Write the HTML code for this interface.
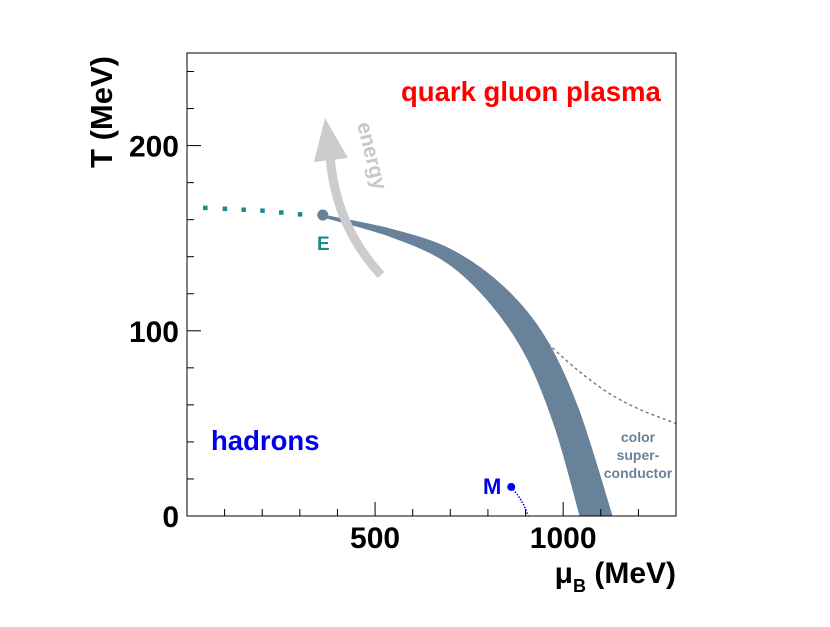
<!DOCTYPE html>
<html><head><meta charset="utf-8"><style>
body{margin:0;background:#fff;}
svg text{font-family:"Liberation Sans",Arial,sans-serif;font-weight:bold;}
</style></head><body>
<svg width="830" height="622" viewBox="0 0 830 622">
<rect x="0" y="0" width="830" height="622" fill="#fff"/>
<g id="plot"></g>
</svg>
<script>
const xTicksMajor=[500,1000];
const yTicksMajor=[0,100,200];
const bandUpperMu=[361,540,700,840,950,1040,1130];
const bandUpperT=[162.5,155,144,124,97,58,0];
const bandLowerMu=[361,540,690,810,905,980,1045];
const bandLowerT=[161.5,151,137,114,85,47,0];
const cscMu=[960,1037,1124,1210,1300];
const cscT=[93,79,66,57,50];
const crossoverMu=[48,100,150,200,250,300];
const crossoverT=[166.5,166,165.5,165,164,163];
const pointE=[361,162.5];
const pointM=[862,15.7];
const nuclearMu=[862,880,895,907];
const nuclearT=[15.7,11,6,0];

const X0=187,X1=676,Y0=516,Y1=53,XMAX=1300,YMAX=250;
const sx=v=>X0+(X1-X0)*v/XMAX;
const sy=v=>Y0-(Y0-Y1)*v/YMAX;
const NS="http://www.w3.org/2000/svg";
const g=document.getElementById('plot');
function mk(tag,attrs,parent){const e=document.createElementNS(NS,tag);for(const k in attrs)e.setAttribute(k,attrs[k]);(parent||g).appendChild(e);return e;}
function crSeg(px,py,start){
 let d=start?('M'+px[0]+','+py[0]):(' L'+px[0]+','+py[0]);
 const n=px.length;
 for(let i=0;i<n-1;i++){
  const x0=px[Math.max(i-1,0)],y0=py[Math.max(i-1,0)];
  const x1=px[i],y1=py[i],x2=px[i+1],y2=py[i+1];
  const x3=px[Math.min(i+2,n-1)],y3=py[Math.min(i+2,n-1)];
  d+=' C'+(x1+(x2-x0)/6)+','+(y1+(y2-y0)/6)+' '+(x2-(x3-x1)/6)+','+(y2-(y3-y1)/6)+' '+x2+','+y2;
 }
 return d;
}

let d=crSeg(bandUpperMu.map(sx),bandUpperT.map(sy),true);
d+=crSeg(bandLowerMu.map(sx).reverse(),bandLowerT.map(sy).reverse(),false)+'Z';
let band=mk('path',{d:d,fill:'#68829a','stroke':'#68829a','stroke-width':1,'stroke-linejoin':'round'});



let csc=mk('path',{d:crSeg(cscMu.map(sx),cscT.map(sy),true),fill:'none',stroke:'#68829a','stroke-width':1.5,'stroke-dasharray':'3,3'});



for(let i=0;i<crossoverMu.length;i++){
 let r=mk('rect',{x:sx(crossoverMu[i])-2,y:sy(crossoverT[i])-2,width:4.5,height:4.5,fill:'#1a8a88'});
 
 
}
let arr=mk('path',{d:'M381,275 Q335,225 330,155',fill:'none',stroke:'#cccccc','stroke-width':9});


let head=mk('polygon',{points:'325,118 314,162 348,158',fill:'#cccccc'});


let et=mk('text',{x:0,y:0,'font-size':21,'font-weight':'normal',fill:'#c8c8c8',transform:'translate(357,124) rotate(76)'});
et.textContent='energy';



let pe=mk('circle',{cx:sx(pointE[0]),cy:sy(pointE[1]),r:5.5,fill:'#68829a'});


let el=mk('text',{x:317,y:250,'font-size':19,fill:'#1a8a88'});el.textContent='E';


let nl=mk('path',{d:crSeg(nuclearMu.map(sx),nuclearT.map(sy),true),fill:'none',stroke:'#0000ee','stroke-width':1.5,'stroke-dasharray':'1.5,1.5'});


let pm=mk('circle',{cx:sx(pointM[0]),cy:sy(pointM[1]),r:4,fill:'#0000ee'});


let ml=mk('text',{x:483,y:494,'font-size':22,fill:'#0000ee'});ml.textContent='M';



let q=mk('text',{x:401,y:101,'font-size':27.5,fill:'#ff0000'});q.textContent='quark gluon plasma';


let h=mk('text',{x:211,y:450,'font-size':27.5,fill:'#0000ee'});h.textContent='hadrons';


['color','super-','conductor'].forEach((s,i)=>{
 let t=mk('text',{x:638,y:442+i*18,'font-size':14,fill:'#68829a','text-anchor':'middle'});t.textContent=s;
 
 
});

let fr=mk('rect',{x:X0,y:Y1,width:X1-X0,height:Y0-Y1,fill:'none',stroke:'#000','stroke-width':1});


for(let v=100;v<XMAX;v+=100){
 let major=(v%500===0);
 let t=mk('line',{x1:sx(v),x2:sx(v),y1:Y0,y2:Y0-(major?14:7),stroke:'#000','stroke-width':1});
 
 
}
xTicksMajor.forEach(v=>{
 let t=mk('text',{x:sx(v),y:548,'font-size':30,fill:'#000','text-anchor':'middle'});t.textContent=v;
 
 
});
for(let v=20;v<YMAX;v+=20){
 let major=(v%100===0);
 let t=mk('line',{x1:X0,x2:X0+(major?14:7),y1:sy(v),y2:sy(v),stroke:'#000','stroke-width':1});
 
 
}
yTicksMajor.forEach(v=>{
 let t=mk('text',{x:179,y:sy(v)+11,'font-size':30,fill:'#000','text-anchor':'end'});t.textContent=v;
 
 
});
let yt=mk('text',{x:0,y:0,'font-size':31,fill:'#000','text-anchor':'middle',transform:'translate(112,112) rotate(-90)'});
yt.textContent='T (MeV)';


let xt=mk('text',{x:676,y:583,'font-size':30,fill:'#000','text-anchor':'end'});


xt.innerHTML='μ<tspan font-size="18" dy="9">B</tspan><tspan dy="-9"> (MeV)</tspan>';
</script>
</body></html>
